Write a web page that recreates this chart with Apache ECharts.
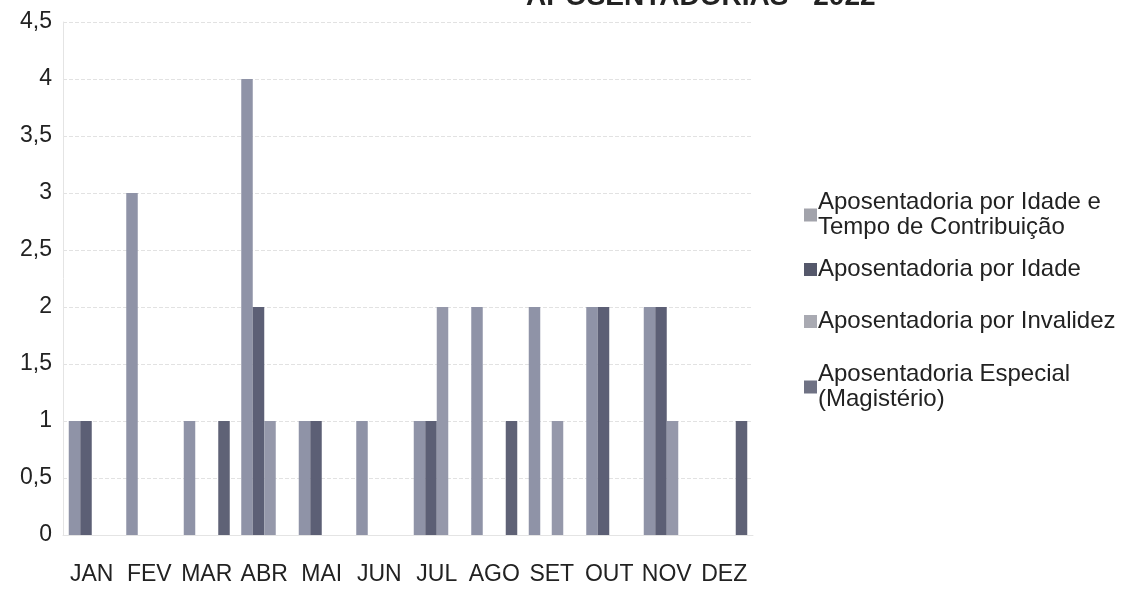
<!DOCTYPE html>
<html>
<head>
<meta charset="utf-8">
<script src="https://cdn.jsdelivr.net/npm/echarts@6/dist/echarts.min.js"></script>
<style>
html,body{margin:0;padding:0;background:#fff;}
#c{width:1148px;height:594px;}
</style>
</head>
<body>
<div id="c"></div>
<script>
const months = ['JAN','FEV','MAR','ABR','MAI','JUN','JUL','AGO','SET','OUT','NOV','DEZ'];
const seriesNames = [
  'Aposentadoria por Idade e\nTempo de Contribuição',
  'Aposentadoria por Idade',
  'Aposentadoria por Invalidez',
  'Aposentadoria Especial\n(Magistério)'
];
const idadeTempo = [1, 3, 1, 4, 1, 1, 1, 2, 2, 2, 2, 0];
const idade      = [1, 0, 0, 2, 1, 0, 1, 0, 0, 2, 2, 0];
const invalidez  = [0, 0, 0, 1, 0, 0, 2, 0, 1, 0, 1, 0];
const especial   = [0, 0, 1, 0, 0, 0, 0, 1, 0, 0, 0, 1];
const yTicks = [0, 0.5, 1, 1.5, 2, 2.5, 3, 3.5, 4, 4.5];
const titleText = 'APOSENTADORIAS - 2022';

const colors = ['#8f93a7', '#5c5f75', '#9598aa', '#5f6276'];
const legendColors = ['#a2a3ab', '#55586b', '#a9aab2', '#6f7284'];
const values = [idadeTempo, idade, invalidez, especial];
const font = 'Liberation Sans, Arial, sans-serif';

const chart = echarts.init(document.getElementById('c'));
const legendTops = [185, 252, 304, 357];
chart.setOption({
  animation: false,
  backgroundColor: '#ffffff',
  title: {
    text: titleText,
    left: 521, top: -22,
    textStyle: {fontFamily: font, fontSize: 28, fontWeight: 'bold', color: '#222'}
  },
  legend: seriesNames.map((n, i) => ({
    data: [{name: n, itemStyle: {color: legendColors[i]}}],
    orient: 'vertical',
    left: 799, top: legendTops[i],
    itemWidth: 13, itemHeight: 13, itemGap: 0,
    icon: 'rect',
    selectedMode: false,
    textStyle: {fontFamily: font, fontSize: 24, color: '#222', lineHeight: 25, padding: [0,0,0,-4]}
  })),
  grid: {left: 63, right: 395, top: 22, bottom: 59, containLabel: false},
  xAxis: {
    type: 'category',
    data: months,
    axisLine: {show: true, lineStyle: {color: '#e4e4e4'}},
    axisTick: {show: false},
    axisLabel: {fontFamily: font, fontSize: 23, color: '#222', margin: 28, interval: 0}
  },
  yAxis: {
    type: 'value',
    min: 0, max: 4.5, interval: 0.5,
    axisLine: {show: true, lineStyle: {color: '#e4e4e4'}},
    axisTick: {show: false},
    splitLine: {lineStyle: {color: '#e2e2e2', type: 'dashed'}},
    axisLabel: {
      fontFamily: font, fontSize: 23, color: '#222', margin: 11,
      formatter: v => { const t = yTicks.find(x => Math.abs(x - v) < 1e-9); return String(t !== undefined ? t : v).replace('.', ','); }
    }
  },
  series: seriesNames.map((n, i) => ({
    name: n,
    type: 'bar',
    data: values[i],
    barGap: '0%',
    barCategoryGap: '20%',
    itemStyle: {color: colors[i]}
  }))
});
</script>
</body>
</html>
